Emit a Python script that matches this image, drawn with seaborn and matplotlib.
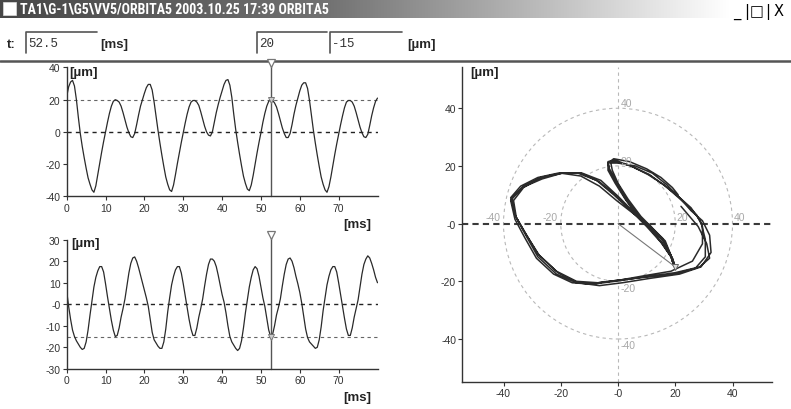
# Ventana ORBITA5: dos señales de desplazamiento en el tiempo y la órbita que forman
import numpy as np
import pandas as pd
import matplotlib
matplotlib.use("Agg")
import matplotlib.pyplot as plt
from matplotlib import font_manager
from matplotlib.colors import LinearSegmentedColormap
from matplotlib.patches import Circle, Rectangle
import seaborn as sns

# --- datos ---
paso_ms = 0.5        # intervalo de muestreo
cursor_ms = 52.5     # posición del cursor

# señal superior [µm], una muestra cada 0.5 ms desde 0 hasta 80 ms
senal_x = [
    22, 28, 31, 32, 28.5, 20, 9, -1, -9, -16,
    -22.5, -28.5, -32.5, -36, -37.5, -33.5, -26.5, -19.5, -12.5, -6,
    0, 6, 11.5, 16, 19, 20, 19.5, 18.5, 16, 12,
    7.5, 3, -0.5, -3, -3.5, -1, 4.5, 10.5, 16, 20,
    24, 27.5, 29.5, 29.5, 26, 18.5, 9.5, 1, -7, -14.5,
    -21.5, -28, -32.5, -36, -37, -33, -26.5, -19.5, -13, -6.5,
    -0.5, 5.5, 11, 15.5, 18.5, 19.5, 19.5, 18.5, 16.5, 12.5,
    8, 3.5, 0, -2, -2.5, 0, 6, 12, 17, 21.5,
    25.5, 29.5, 32, 32.5, 29, 21.5, 11, 1.5, -6.5, -14,
    -21, -27.5, -32, -35.5, -36.5, -33, -27, -20, -13, -6.5,
    -0.5, 6, 11.5, 16, 19, 20, 19.5, 18, 15.5, 11.5,
    7, 2.5, -1, -3.5, -3.5, -1, 4.5, 11, 16.5, 21,
    25.5, 29, 30.5, 30.5, 27, 19.5, 10, 1, -7, -14.5,
    -21.5, -28, -32.5, -36, -37.5, -34, -28, -21, -14, -7.5,
    -1.5, 4.5, 10, 15, 18.5, 19.5, 19.5, 18.5, 16, 12,
    7.5, 3, -0.5, -3, -3.5, -1.5, 4, 10, 15, 19,
    21,
]

# señal inferior [µm], mismas muestras
senal_y = [
    6, -1, -7, -12, -15, -17, -18.5, -20, -21, -20.5,
    -17.5, -12, -5, 1.5, 8, 12.5, 15.5, 17.5, 17.5, 15,
    9.5, 3.5, -2, -7.5, -12, -15, -14.5, -11, -6, -2,
    2.5, 8.5, 14.5, 19, 21.5, 22, 20, 17, 13.5, 10,
    6.5, 3, -1, -7, -13, -16.5, -18, -19.5, -20.5, -20.5,
    -17.5, -11.5, -3.5, 3, 9, 13, 16, 17.5, 17.5, 14.5,
    9.5, 4, -1.5, -7, -11.5, -14.5, -14.5, -11, -6, -2,
    2.5, 8.5, 14, 18.5, 21, 21, 20, 17.5, 13.5, 9,
    4.5, 1, -4, -10, -15, -17.5, -19, -20.5, -21.5, -20.5,
    -17, -11, -4, 2, 8, 12.5, 16, 17.5, 16.5, 13,
    8, 3, -1, -6.5, -12, -15, -14, -10, -5, -1.5,
    2.5, 8.5, 14, 18.5, 21, 21.5, 20, 17, 13, 9.5,
    5.5, 0.5, -5.5, -11.5, -15.5, -17.5, -18.5, -19.5, -20.5, -20,
    -16.5, -10.5, -3, 3, 9, 13, 16, 17.5, 17.5, 15,
    10, 4.5, -1, -6.5, -11.5, -14.5, -14.5, -11, -6, -2,
    2, 8, 14, 18.5, 21, 22.5, 21.5, 19, 16, 12.5,
    10,
]

ticks_tiempo = [0, 10, 20, 30, 40, 50, 60, 70]
ticks_sup = [40, 20, 0, -20, -40]
etiquetas_sup = ["40", "20", "0", "-20", "-40"]
ticks_inf = [30, 20, 10, 0, -10, -20, -30]
etiquetas_inf = ["30", "20", "10", "-0", "-10", "-20", "-30"]
ticks_orbita = [-40, -20, 0, 20, 40]
etiquetas_orbita = ["-40", "-20", "-0", "20", "40"]
radios = [20, 40]

titulo = "TA1\\G-1\\G5\\VV5/ORBITA5 2003.10.25 17:39 ORBITA5"
botones = ["_", "|", "□", "|", "X"]

W, H = 791, 410

sns.set_style("white")
plt.rcParams["font.family"] = ["Liberation Sans", "DejaVu Sans"]
plt.rcParams["axes.unicode_minus"] = False

df = pd.DataFrame({"t": np.arange(len(senal_x)) * paso_ms, "x": senal_x, "y": senal_y})
i_cursor = int(round(cursor_ms / paso_ms))
valor_x = senal_x[i_cursor]
valor_y = senal_y[i_cursor]


def fuente_estrecha():
    """Busca una fuente condensada instalada para la barra de título."""
    preferidas = ["Liberation Sans Narrow", "DejaVu Sans Condensed", "Roboto Condensed",
                  "Open Sans Condensed", "Noto Sans Condensed"]
    fuentes = font_manager.fontManager.ttflist
    for nombre in preferidas:
        for f in fuentes:
            if f.name == nombre and f.weight in ("bold", 700):
                return font_manager.FontProperties(fname=f.fname, size=10)
    for f in fuentes:
        estrecha = f.stretch in ("condensed", "semi-condensed", "extra-condensed") or \
            (isinstance(f.stretch, int) and f.stretch < 500) or "ondensed" in f.fname or "Narrow" in f.fname
        if estrecha and (f.weight in ("bold", 700) or "Bold" in f.fname) and "Italic" not in f.fname \
                and "Oblique" not in f.fname:
            return font_manager.FontProperties(fname=f.fname, size=10)
    # sin fuente estrecha: Liberation Sans más pequeña
    return font_manager.FontProperties(family="Liberation Sans", weight="bold", size=7.6)


def ejes_px(fig, x0, y0, x1, y1):
    """Crea unos ejes a partir de coordenadas en píxeles (origen arriba a la izquierda)."""
    return fig.add_axes([x0 / W, 1 - y1 / H, (x1 - x0) / W, (y1 - y0) / H])


def estilo_ejes(ax):
    for lado in ["top", "right"]:
        ax.spines[lado].set_visible(False)
    for lado in ["left", "bottom"]:
        ax.spines[lado].set_color("#333333")
        ax.spines[lado].set_linewidth(1.0)
    ax.tick_params(direction="out", length=3, width=0.8, labelsize=7.5, pad=1.5,
                   colors="#333333", left=True, bottom=True)
    ax.set_xlabel("")
    ax.set_ylabel("")
    ax.patch.set_alpha(0)


def dibujar_senal(ax, col, ylim, ticks, etiquetas, niveles, valor, tope_cursor):
    sns.lineplot(data=df, x="t", y=col, ax=ax, color="#2a2a2a", linewidth=0.9, estimator=None)
    ax.set_xlim(0, 80)
    ax.set_ylim(*ylim)
    for nivel, color, ancho in niveles:
        ax.axhline(nivel, color=color, lw=ancho, ls=(0, (3, 3)), zorder=1)
    # cursor vertical con su marca
    ax.plot([cursor_ms, cursor_ms], [ylim[0], tope_cursor], color="#555555", lw=1, clip_on=False)
    ax.plot(cursor_ms, tope_cursor, marker="v", ms=6, mfc="white", mec="#777777", mew=0.9,
            clip_on=False)
    ax.plot(cursor_ms, valor, marker="v", ms=4, mfc="#cccccc", mec="#777777", mew=0.7)
    ax.set_xticks(ticks_tiempo)
    ax.set_yticks(ticks)
    ax.set_yticklabels(etiquetas)
    estilo_ejes(ax)


fig = plt.figure(figsize=(W / 100, H / 100), dpi=100)

# --- marco de la ventana ---
fondo = fig.add_axes([0, 0, 1, 1])
degradado = np.linspace(0, 1, 256)[None, :]
cmap_barra = LinearSegmentedColormap.from_list(
    "barra", [(0, "#474747"), (0.45, "#727272"), (0.65, "#a4a4a4"), (0.85, "#d8d8d8"), (1, "#ffffff")])
fondo.imshow(degradado, extent=[0, 730, 19, 0], aspect="auto", cmap=cmap_barra)
fondo.set_xlim(0, W)
fondo.set_ylim(H, 0)
fondo.axis("off")
fondo.add_patch(Rectangle((3, 3), 13, 13, facecolor="white", edgecolor="#dddddd", lw=0.5))
fondo.text(20, 10, titulo, color="white", va="center", fontproperties=fuente_estrecha())
# botones de la ventana
for x, simbolo in zip([737, 746.5, 757, 768, 778.5], botones):
    fondo.text(x, 12, simbolo, color="black", fontsize=10.5, va="center", ha="center",
               family=["DejaVu Sans"])

# fila de campos
fondo.text(7, 45, "t:", fontsize=9.5, fontweight="bold", va="center")
cajas = [(26, 97, f"{cursor_ms:g}"), (257, 327, f"{valor_x:g}"), (330, 402, f"{valor_y:g}")]
for x0, x1, texto in cajas:
    fondo.plot([x0, x0, x1], [54, 33, 33], color="#555555", lw=1.2)
    fondo.text(x0 + 2.5, 44, texto, fontsize=9, va="center", color="#333333",
               family=["Liberation Mono", "DejaVu Sans Mono"])
fondo.text(100, 45, "[ms]", fontsize=9.5, fontweight="bold", va="center")
fondo.text(407, 45, "[µm]", fontsize=9.5, fontweight="bold", va="center")
fondo.plot([0, W], [61.5, 61.5], color="#555555", lw=1.8)

# etiquetas de unidades
for x, y, texto in [(69, 73, "[µm]"), (343, 225, "[ms]"), (71, 244, "[µm]"),
                    (343, 398, "[ms]"), (470, 73, "[µm]")]:
    fondo.text(x, y, texto, fontsize=9.5, fontweight="bold", va="center", color="#222222")

# --- señal superior ---
ax_sup = ejes_px(fig, 66.7, 68.5, 377.5, 197.3)
dibujar_senal(ax_sup, "x", (-40, 40), ticks_sup, etiquetas_sup,
              [(valor_x, "#666666", 0.8), (0, "#222222", 1.0)], valor_x, 43)

# --- señal inferior ---
ax_inf = ejes_px(fig, 66.7, 240.7, 377.5, 369.8)
dibujar_senal(ax_inf, "y", (-30, 30), ticks_inf, etiquetas_inf,
              [(0, "#222222", 1.0), (valor_y, "#666666", 0.8)], valor_y, 32)

# --- órbita ---
ax_orb = ejes_px(fig, 462.3, 68, 772.3, 382.7)
ax_orb.set_xlim(-54.4, 53.9)
ax_orb.set_ylim(-54.8, 54.3)
for r in radios:
    ax_orb.add_patch(Circle((0, 0), r, fill=False, edgecolor="#b8b8b8", lw=0.8,
                            ls=(0, (3, 3)), zorder=1))
    ax_orb.text(1, r, f"{r}", color="#a8a8a8", fontsize=7.5, ha="left", va="bottom")
    ax_orb.text(1, -r - 0.5, f"-{r}", color="#a8a8a8", fontsize=7.5, ha="left", va="top")
    ax_orb.text(r + 0.5, 0.5, f"{r}", color="#a8a8a8", fontsize=7.5, ha="left", va="bottom")
    ax_orb.text(-r - 1, 0.5, f"-{r}", color="#a8a8a8", fontsize=7.5, ha="right", va="bottom")
ax_orb.axvline(0, color="#b8b8b8", lw=0.8, ls=(0, (3, 3)), zorder=1)
ax_orb.axhline(0, color="#3a3a3a", lw=1.5, ls=(0, (3, 2)), zorder=1)
sns.lineplot(data=df, x="x", y="y", sort=False, estimator=None, ax=ax_orb,
             color="#2a2a2a", linewidth=1.1)
ax_orb.plot([0, valor_x], [0, valor_y], color="#777777", lw=0.8)
ax_orb.plot(valor_x, valor_y, marker="v", ms=4, mfc="#dddddd", mec="#666666", mew=0.7)
ax_orb.set_xticks(ticks_orbita)
ax_orb.set_xticklabels(etiquetas_orbita)
ax_orb.set_yticks(ticks_orbita[::-1])
ax_orb.set_yticklabels(etiquetas_orbita[::-1])
estilo_ejes(ax_orb)

fig.savefig("out.png", dpi=100)
